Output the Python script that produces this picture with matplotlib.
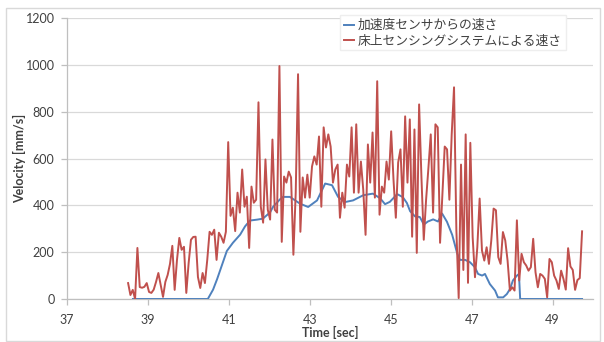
import matplotlib
matplotlib.use('Agg')
import matplotlib.pyplot as plt
from matplotlib.patches import Rectangle
import numpy as np

plt.rcParams['font.family'] = ['Lato', 'Noto Sans CJK JP', 'DejaVu Sans']

# floor sensing system: evenly sampled speed (mm/s) from first to last sample time
floor_start = 38.51
floor_end = 49.73
floor_v = [68, 17, 39, 0, 218,
           51, 48, 52, 68, 30, 26, 40, 73, 111, 60, 9, 73, 103, 150, 227, 39, 167, 261, 210,
           223, 26, 153, 253, 265, 266, 94, 47, 111, 68, 167, 287, 274, 296, 167, 283, 266, 240, 287,
           670,
           355, 390, 290, 454, 369, 553, 394, 437, 218, 480, 411, 424,
           840,
           394, 326, 596, 381, 339, 681, 381, 369,
           995,
           244, 523, 497, 544, 519, 189, 454,
           960,
           287, 519, 433, 531, 433, 566, 609, 574, 694, 394, 733, 647, 703, 651, 497, 553, 574,
           347, 454, 390, 574, 523, 733, 454, 746, 454, 587, 467, 274, 660, 497, 711, 433,
           930,
           360, 480, 454, 587, 510, 716, 510, 347, 583, 639, 394, 780, 497, 767, 266, 724,
           197, 831, 520, 253, 424, 560, 703, 369, 746, 733, 240, 450, 651, 639, 424, 703,
           904,
           296, 4,
           574, 124, 703, 69, 667, 264, 93, 221, 429, 207, 164, 221, 150, 250, 386, 379, 179,
           150, 286, 250, 164, 36, 50, 36, 336, 79, 193, 157, 143, 121, 136, 257, 114, 50, 107,
           100, 86, 7, 171, 157, 100, 79, 43, 121, 86, 40, 217, 139, 124, 39, 81, 89, 289]
floor_t = np.linspace(floor_start, floor_end, len(floor_v))

# accelerometer speed
accel_t = [38.63, 40.48, 40.61, 40.71, 40.78, 40.95, 41.10, 41.28, 41.40, 41.52, 41.70, 41.84,
           42.02, 42.09, 42.26, 42.34, 42.51, 42.76, 42.96, 43.18, 43.38, 43.55, 43.70, 43.87,
           44.07, 44.32, 44.56, 44.74, 44.86, 44.98, 45.16, 45.30, 45.40, 45.48, 45.60, 45.72,
           45.82, 45.92, 46.05, 46.17, 46.27, 46.39, 46.52, 46.64, 46.71, 46.84, 46.96, 47.08,
           47.16, 47.26, 47.33, 47.45, 47.58, 47.65, 47.78, 47.87, 47.95, 48.02, 48.12, 48.17,
           48.20, 49.73]
accel_v = [0, 0, 40, 85, 120, 205, 240, 275, 310, 335, 339, 343,
           370, 393, 425, 436, 436, 407, 393, 421, 493, 486, 436, 414,
           421, 443, 450, 430, 405, 415, 448, 435, 410, 375, 353, 350,
           318, 331, 340, 331, 365, 330, 274, 197, 167, 167, 157, 136,
           107, 100, 107, 64, 36, 7, 7, 21, 43, 79, 100, 107,
           0, 0]

labels = ['加速度センサからの速さ', '床上センシングシステムによる速さ']
x_ticks = [37, 39, 41, 43, 45, 47, 49]
y_ticks = [0, 200, 400, 600, 800, 1000, 1200]

W, H = 604, 342
fig = plt.figure(figsize=(W / 100, H / 100), dpi=100)
ax = fig.add_axes([67 / W, 43 / H, 526 / W, 281 / H])

ax.plot(accel_t, accel_v, color='#4F81BD', lw=1.4, label=labels[0], zorder=3)
ax.plot(floor_t, floor_v, color='#C0504D', lw=1.4, label=labels[1], zorder=4)

ax.set_xlim(37, 50)
ax.set_ylim(0, 1200)
ax.set_xticks(x_ticks)
ax.set_yticks(y_ticks)
ax.grid(axis='y', color='#D9D9D9', lw=0.9, zorder=0)
ax.set_axisbelow(True)
for side in ['top', 'right']:
    ax.spines[side].set_visible(False)
for side in ['left', 'bottom']:
    ax.spines[side].set_color('#BFBFBF')
    ax.spines[side].set_linewidth(0.9)
ax.tick_params(axis='both', length=4, width=0.9, color='#BFBFBF',
               labelsize=9, labelcolor='#404040')
ax.tick_params(axis='x', pad=6.5)
ax.tick_params(axis='y', pad=5)

ax.set_xlabel('Time [sec]', fontsize=9, fontweight='bold', color='#404040')
ax.set_ylabel('Velocity [mm/s]', fontsize=9, fontweight='bold', color='#404040')
ax.xaxis.set_label_coords(0.5, -0.095)
ax.yaxis.set_label_coords(-0.078, 0.5)

leg = ax.legend(loc='upper left', bbox_to_anchor=(340 / W, 1 - 15 / H),
                bbox_transform=fig.transFigure, borderaxespad=0, borderpad=0.3,
                handlelength=0.8, handletextpad=0.3, labelspacing=0.25, fontsize=9.2,
                fancybox=False, framealpha=1, edgecolor='#EEEEEE')
for txt in leg.get_texts():
    txt.set_color('#404040')

# chart area border
fig.add_artist(Rectangle((6 / W, 1 / H), 594 / W, 333 / H, transform=fig.transFigure,
                         fill=False, edgecolor='#D9D9D9', lw=1))

fig.savefig('out.png', dpi=100)
